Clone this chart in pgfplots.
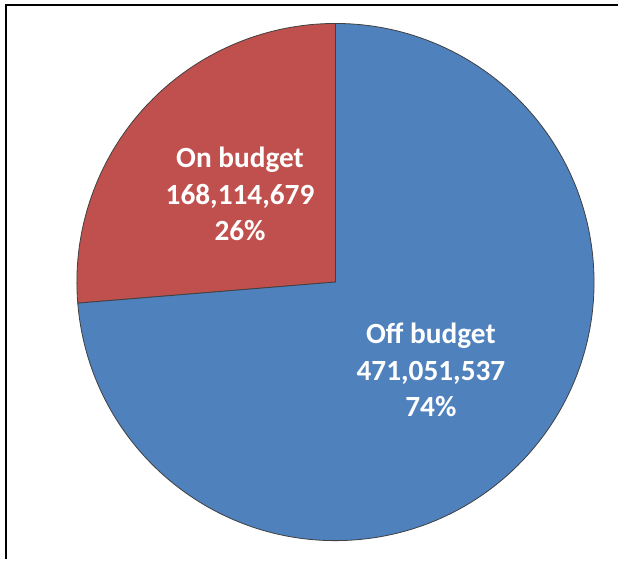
\documentclass[border=0pt]{standalone}
\usepackage{pgfplots}
\pgfplotsset{compat=1.18}
\usepackage{fontspec}
\setmainfont{Carlito}
\definecolor{onb}{HTML}{C0504D}
\definecolor{offb}{HTML}{4F81BD}
% values in millions
\pgfmathsetmacro{\onv}{168.114679}
\pgfmathsetmacro{\offv}{471.051537}
\pgfmathsetmacro{\frac}{\onv/(\onv+\offv)}
\pgfmathsetmacro{\ang}{360*\frac}
\pgfmathsetmacro{\endang}{90+\ang}
\pgfmathsetmacro{\onmid}{90+\ang/2}
\pgfmathsetmacro{\offmid}{\endang+(360-\ang)/2}
\begin{document}
\begin{tikzpicture}
\begin{axis}[
  x=0.75pt, y=0.75pt,
  xmin=-336, xmax=283, ymin=-277.5, ymax=282.5,
  hide axis, clip=false,
]
\path (axis cs:-336,-277.5) rectangle (axis cs:283,282.5);
\filldraw[fill=onb, draw=black!75, line width=0.6pt]
  (axis cs:0,0) -- +(90:194.25pt) arc[start angle=90, end angle=\endang, radius=194.25pt] -- cycle;
\filldraw[fill=offb, draw=black!75, line width=0.6pt]
  (axis cs:0,0) -- +(\endang:194.25pt) arc[start angle=\endang, end angle=450, radius=194.25pt] -- cycle;
\path (axis cs:0,0) ++(\onmid:97.5pt) node[align=center, text=white, font=\bfseries\fontsize{22}{27.5}\selectfont] {On budget\\168,114,679\\26\%};
\path (axis cs:0,0) ++(\offmid:97.5pt) node[align=center, text=white, font=\bfseries\fontsize{22}{27.5}\selectfont] {Off budget\\471,051,537\\74\%};
\draw[line width=1.5pt, black] (axis cs:-330,-277.5) -- (axis cs:-330,277.5) -- (axis cs:283,277.5);
\end{axis}
\end{tikzpicture}
\end{document}
